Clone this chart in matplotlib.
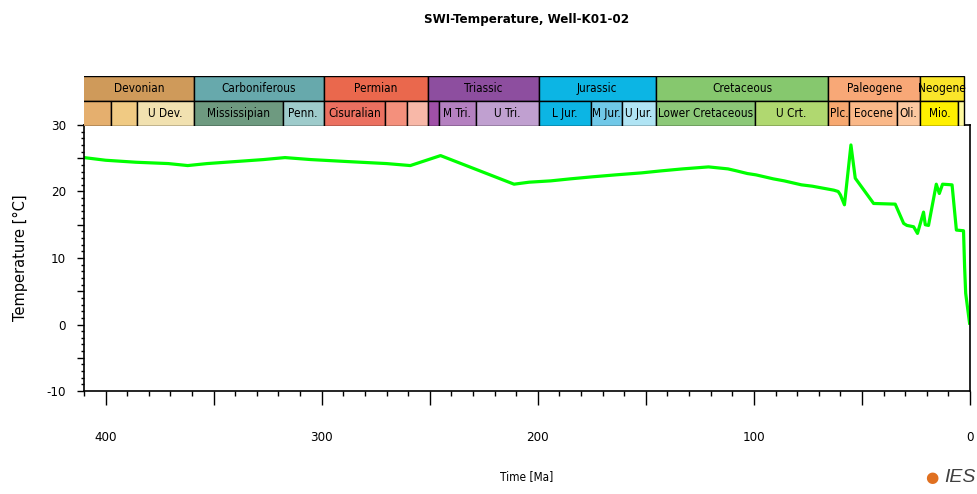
import numpy as np
import matplotlib
matplotlib.use("Agg")
import matplotlib.pyplot as plt
from matplotlib.ticker import MultipleLocator, FuncFormatter

## data
age_ma = [410, 400, 386, 371, 362, 353, 340, 327, 317, 305, 288, 270, 259, 245,
          211, 204, 194, 185, 175, 164, 152, 143, 133, 121, 112, 108, 103, 99,
          95, 91, 86, 82, 78, 73, 68, 63, 61, 60, 58.1, 55.1, 53.1, 44.6, 34.6,
          30.7, 29.2, 26.1, 24.3, 21.5, 20.7, 19.2, 15.6, 14.2, 12.7, 8.3, 6.3,
          3.0, 2.5, 2.0, 0.2]
temp_c = [25.1, 24.7, 24.4, 24.2, 23.9, 24.2, 24.5, 24.8, 25.1, 24.8, 24.5, 24.2,
          23.9, 25.4, 21.1, 21.4, 21.6, 21.9, 22.2, 22.5, 22.8, 23.1, 23.4, 23.7,
          23.4, 23.1, 22.7, 22.5, 22.2, 21.9, 21.6, 21.3, 21.0, 20.8, 20.5, 20.2,
          20.0, 19.5, 18.0, 27.0, 22.0, 18.2, 18.1, 15.2, 14.9, 14.7, 13.7, 16.9,
          15.0, 14.9, 21.1, 19.7, 21.1, 21.0, 14.2, 14.1, 8.7, 4.7, 0.2]

periods = ['Devonian', 'Carboniferous', 'Permian', 'Triassic', 'Jurassic',
           'Cretaceous', 'Paleogene', 'Neogene']
period_start = [419, 359.2, 299, 251, 199.6, 145.5, 65.5, 23.03]
period_end = [359.2, 299, 251, 199.6, 145.5, 65.5, 23.03, 2.588]
period_colors = ['#CF9A5A', '#67A9AC', '#EA684D', '#8D4E9F', '#0CB5E4',
                 '#86C86E', '#F8A877', '#FAE52A']

epochs = ['', '', 'U Dev.', 'Mississipian', 'Penn.', 'Cisuralian', '', '',
          '', 'M Tri.', 'U Tri.', 'L Jur.', 'M Jur.', 'U Jur.',
          'Lower Cretaceous', 'U Crt.', 'Plc.', 'Eocene', 'Oli.', 'Mio.', '']
epoch_start = [419, 397.5, 385.3, 359.2, 318.1, 299, 270.6, 260.4, 251, 245.9,
               228.7, 199.6, 175.6, 161.2, 145.5, 99.6, 65.5, 55.8, 33.9, 23.03, 5.332]
epoch_end = [397.5, 385.3, 359.2, 318.1, 299, 270.6, 260.4, 251, 245.9, 228.7,
             199.6, 175.6, 161.2, 145.5, 99.6, 65.5, 55.8, 33.9, 23.03, 5.332, 2.588]
epoch_colors = ['#E5AF6E', '#F0CA83', '#F1E1B0', '#6E9A80', '#9ECBCB',
                '#EB7060', '#F4907C', '#F8B8A8', '#A050A8', '#B480C0', '#C0A0D0',
                '#0CB5E4', '#70C8E8', '#B0E4F4', '#8CC878', '#B0D870',
                '#F7A870', '#FAB888', '#FCC8A0', '#FFF000', '#FFFAA0']

# condensed face for the strip / ticks / title
cond = dict(family='DejaVu Sans', stretch='condensed')

fig = plt.figure(figsize=(9.78, 4.94), dpi=100)
L, R = 84 / 978, 970 / 978
ax = fig.add_axes([L, 103 / 494, R - L, 266 / 494])
strip = fig.add_axes([L, 368 / 494, R - L, 50 / 494])

## temperature curve
ax.plot(age_ma, temp_c, color='#00FF00', lw=2.3)
ax.set_xlim(410, 0)
ax.set_ylim(-10, 30)
for s in ax.spines.values():
    s.set_linewidth(1.2)
ax.xaxis.set_major_locator(MultipleLocator(50))
ax.xaxis.set_minor_locator(MultipleLocator(10))
ax.yaxis.set_major_locator(MultipleLocator(5))
ax.yaxis.set_minor_locator(MultipleLocator(1))
ax.xaxis.set_major_formatter(FuncFormatter(lambda v, p: '%d' % v if v % 100 == 0 else ''))
ax.yaxis.set_major_formatter(FuncFormatter(lambda v, p: '%d' % v if v % 10 == 0 else ''))
ax.tick_params(axis='x', which='major', length=10, width=1, pad=19)
ax.tick_params(axis='x', which='minor', length=3.6, width=1)
ax.tick_params(axis='y', which='major', length=5, width=1, pad=8)
ax.tick_params(axis='y', which='minor', length=2, width=1)
for lab in ax.get_xticklabels() + ax.get_yticklabels():
    lab.set_family('DejaVu Sans')
    lab.set_stretch('condensed')
    lab.set_fontsize(9.5)

## time scale strip
strip.set_xlim(410, 0)
strip.set_ylim(0, 2)
strip.axis('off')
for i in range(len(periods)):
    strip.barh(1, period_start[i] - period_end[i], left=period_end[i], height=1,
               align='edge', color=period_colors[i], edgecolor='black', lw=1)
    mid = (min(period_start[i], 410) + period_end[i]) / 2
    strip.text(mid, 1.5, periods[i], ha='center', va='center', fontsize=8.5, **cond)
for i in range(len(epochs)):
    strip.barh(0, epoch_start[i] - epoch_end[i], left=epoch_end[i], height=1,
               align='edge', color=epoch_colors[i], edgecolor='black', lw=1)
    mid = (min(epoch_start[i], 410) + epoch_end[i]) / 2
    strip.text(mid, 0.5, epochs[i], ha='center', va='center', fontsize=8.5, **cond)

## labels
fig.text(527 / 978, 1 - 20 / 494, 'SWI-Temperature, Well-K01-02', ha='center',
         va='center', fontsize=9.5, fontweight='bold', **cond)
fig.text(527 / 978, 1 - 477 / 494, 'Time [Ma]', ha='center', va='center',
         fontsize=8.5, **cond)
fig.text(20 / 978, 1 - 258 / 494, 'Temperature [\u00b0C]', ha='center', va='center',
         rotation=90, fontsize=10.5, family='DejaVu Sans')

## logo
fig.text(932 / 978, 1 - 477 / 494, '\u25CF', ha='center', va='center',
         fontsize=11, color='#E07020')
fig.text(976 / 978, 1 - 477 / 494, 'IES', ha='right', va='center', fontsize=14,
         style='italic', color='#404040', family=['Liberation Sans', 'DejaVu Sans'])

fig.savefig('out.png', dpi=100)
